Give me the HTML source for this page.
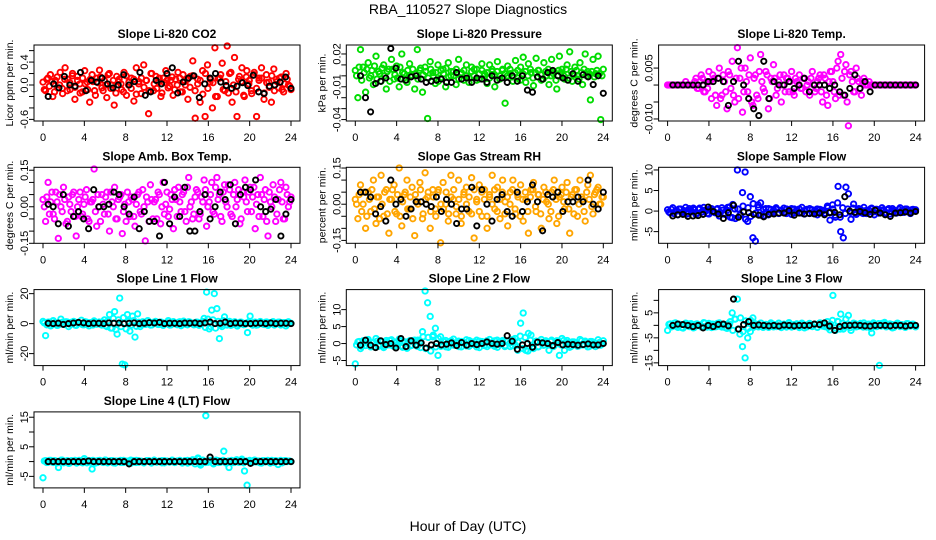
<!DOCTYPE html>
<html><head><meta charset="utf-8"><title>RBA_110527 Slope Diagnostics</title>
<style>
html,body{margin:0;padding:0;background:#fff;}
svg{display:block;font-family:"Liberation Sans",Arial,sans-serif;}
</style></head>
<body>
<svg id="chart" width="936" height="540" viewBox="0 0 936 540" xmlns="http://www.w3.org/2000/svg">
<rect x="0" y="0" width="936" height="540" fill="#fff"/>
<text x="468" y="14" text-anchor="middle" font-size="14">RBA_110527  Slope Diagnostics</text>
<text x="468" y="531" text-anchor="middle" font-size="14">Hour of Day (UTC)</text>
<g id="panels"></g>
</svg>
<script>
// ---------- data (x = hour of day, evenly spaced 0..24 across each series) ----------
const xTicks = [0, 4, 8, 12, 16, 20, 24];

const co2Color = [0.05,-0.1,0.12,0.18,-0.2,0.08,-0.05,0.22,-0.15,0.3,0.1,-0.08,0.2,-0.25,0.15,0.02,-0.12,0.25,0.05,-0.3,0.18,-0.1,0.12,0.26,-0.05,0.08,-0.22,0.2,0.0,-0.35,0.15,0.1,-0.08,0.22,-0.18,0.05,0.12,-0.28,0.3,0.02,-0.15,0.35,0.08,-0.5,0.2,-0.1,0.15,0.05,-0.2,0.12,0.25,-0.05,0.08,-0.18,0.1,0.22,-0.12,0.18,0.0,-0.25,0.15,0.42,-0.58,0.1,-0.3,0.25,-0.55,0.35,0.05,-0.4,0.65,-0.2,0.12,0.38,-0.1,0.68,0.2,-0.3,0.48,-0.55,0.15,0.3,-0.2,0.25,0.08,-0.15,0.22,-0.55,0.12,0.3,-0.25,0.18,0.05,-0.3,0.28,0.1,-0.05,0.14,-0.12,0.2,0.0,-0.08];
const co2Rep = [-0.08,0.1,-0.02,0.06,-0.12,0.14,0.0,-0.06,0.1,-0.1,0.04,0.16,-0.04,0.08,-0.14,0.12,0.02,-0.08,0.1,0.06,-0.18,0.04,0.14,-0.1,0.0,0.18,-0.06,0.08,-0.14,0.06,0.02,-0.12,0.16,0.0,-0.06,0.1,-0.16,0.06,0.12,-0.04,0.08,-0.1,0.2,0.02,-0.06,0.12,-0.14,0.04,0.08,-0.02,0.14,-0.08,0.0,0.12,-0.12,0.06,0.1,-0.04,0.16,-0.1,0.02,0.08,-0.16,0.2,-0.06,0.1,0.04,-0.2,0.12,0.18,-0.08,0.06,-0.14,0.22,0.0,-0.12,0.1,0.06,-0.18,0.14,0.02,-0.1,0.18,-0.06,0.08,0.12,-0.14,0.04,-0.04,0.16,-0.1,0.06,0.12,-0.08,0.02,0.1,-0.02];
const co2Black = [-0.2,0.02,-0.05,0.15,0.0,-0.02,0.22,-0.1,0.08,0.05,0.12,0.02,-0.05,0.0,0.18,0.0,0.06,0.22,-0.18,-0.12,0.08,0.02,0.2,0.3,-0.14,0.05,0.12,0.16,-0.22,0.02,0.12,0.2,0.05,-0.01,-0.06,-0.02,0.04,-0.01,0.17,-0.12,-0.15,-0.02,0.0,0.05,0.14,-0.06];

const presColor = [0.005,-0.02,0.024,0.008,-0.015,0.012,0.0,-0.008,0.018,0.004,-0.005,0.01,-0.012,0.006,0.015,-0.003,0.009,-0.01,0.02,0.002,-0.006,0.011,0.0,-0.012,0.024,0.005,-0.015,0.008,-0.039,0.013,0.003,-0.007,0.01,-0.002,0.006,-0.01,0.012,0.0,0.004,-0.008,0.015,0.002,-0.004,0.01,-0.006,0.008,0.0,0.006,-0.003,0.011,0.002,-0.007,0.01,0.004,-0.01,0.013,0.0,0.006,-0.025,0.009,0.002,-0.005,0.014,-0.002,0.008,0.017,-0.006,0.011,0.003,-0.009,0.016,0.005,-0.004,0.012,0.0,-0.008,0.015,0.004,-0.012,0.018,0.006,-0.003,0.01,0.022,-0.005,0.008,0.0,0.012,-0.008,0.02,0.004,-0.022,0.015,0.002,0.018,-0.04,0.006];
const presRep = [0.0,0.008,-0.004,0.003,0.006,-0.002,0.005,0.009,-0.003,0.002,0.007,0.0,0.004,-0.005,0.006,0.001,-0.002,0.008,0.003,-0.004,0.005,0.0,0.006,0.002,-0.003,0.007,0.001,0.004,-0.002,0.006,0.0,0.003,-0.005,0.005,0.002,0.007,-0.001,0.004,0.0,0.006,-0.003,0.003,0.005,0.0,-0.002,0.004,0.006,-0.004,0.002,0.005,0.0,0.003,-0.002,0.006,0.001,0.004,-0.003,0.005,0.002,0.0,0.006,-0.001,0.003,0.005,-0.004,0.002,0.004,0.0,0.006,-0.002,0.003,0.005,0.001,-0.003,0.004,0.006,0.0,0.002,-0.004,0.005,0.003,0.0,0.006,-0.002,0.004,0.001,0.005,-0.003,0.003,0.006,0.0,0.002,0.004,-0.001,0.005,0.002,0.0];
const presBlack = [0.0,-0.02,-0.033,-0.007,-0.005,-0.002,0.025,0.007,-0.003,-0.004,-0.001,0.0,-0.003,-0.006,-0.005,-0.004,-0.003,-0.006,-0.006,0.003,-0.003,-0.002,-0.006,-0.002,-0.003,-0.006,0.0,-0.004,-0.002,-0.006,0.0,-0.005,0.0,-0.013,-0.015,-0.001,-0.003,0.003,0.005,0.0,-0.002,-0.004,0.002,-0.005,0.001,-0.001,-0.008,0.0,-0.016];

const tempColor = [0,0,0,0,0,0,0,0.001,0,0,0,0.002,-0.001,0.003,-0.002,0.001,0.004,-0.004,0.002,-0.006,0.005,-0.003,0.001,-0.007,0.003,0.007,-0.005,0.011,0.002,-0.008,0.005,-0.002,0.008,-0.006,0.003,-0.004,0.009,-0.001,0.004,-0.007,0.002,0.006,-0.003,0.001,-0.005,0.003,0.002,-0.002,0.004,-0.003,0.001,0.003,-0.001,0.002,0.0,-0.003,0.004,-0.002,0.001,0.003,-0.005,0.002,-0.006,0.004,0.001,-0.004,0.007,0.009,-0.003,0.006,-0.012,0.004,-0.002,0.005,0.001,-0.003,0.002,0,0.001,0,0,0,0,0,0,0,0,0,0,0,0,0,0,0,0,0,0];
const tempRep = [0,0,0,0,0,0,0,0,0,0,0.001,-0.001,0.001,0.002,-0.002,-0.001,0.001,0.003,-0.003,0.002,-0.004,0.003,-0.002,0.004,-0.001,-0.003,0.002,-0.004,0.005,-0.002,0.001,0.003,-0.005,0.002,-0.003,0.004,0.001,-0.002,0.003,-0.004,0.001,0.002,-0.001,0.003,0.0,-0.002,0.002,0.001,-0.002,0.002,0.0,-0.001,0.002,-0.002,0.001,0.002,0.0,-0.001,0.002,-0.002,0.003,-0.003,0.001,0.004,-0.002,0.005,-0.003,0.002,0.004,-0.005,0.003,0.001,-0.002,0.002,-0.001,0.001,0,0,0,0,0,0,0,0,0,0,0,0,0,0,0,0,0,0,0,0];
const tempBlack = [0,0,0,0,0,0,0,0.001,0.001,0.002,0.001,-0.006,0.001,0.007,0.0,-0.004,-0.007,-0.009,0.007,-0.004,0.001,0.0,0.0,0.001,-0.001,0.0,0.002,-0.002,0.0,0.0,0.0,-0.001,0.0,-0.002,-0.003,-0.001,0.003,-0.001,0.001,-0.002,0,0,0,0,0,0,0,0,0];

const ambColor = [0.03,-0.06,0.1,0.02,-0.03,0.06,-0.13,0.0,0.08,-0.07,0.04,-0.02,0.06,-0.12,0.03,-0.04,0.01,0.07,-0.06,0.02,0.155,-0.08,0.0,0.05,-0.03,0.06,-0.1,0.02,0.08,-0.05,0.04,-0.11,0.01,0.06,-0.04,0.03,-0.08,0.05,-0.02,0.07,-0.14,0.02,0.09,-0.05,0.03,0.06,-0.07,0.1,0.01,-0.04,0.05,-0.09,0.03,0.08,-0.02,0.06,-0.06,0.12,0.02,-0.03,0.07,-0.05,0.04,0.11,-0.08,0.02,0.1,-0.03,0.12,0.05,-0.06,0.09,0.0,0.07,-0.04,0.1,0.03,-0.07,0.06,0.11,-0.02,0.08,0.04,-0.09,0.05,0.12,-0.04,0.07,-0.12,0.02,0.09,-0.06,0.03,0.1,-0.05,0.08,0.0,0.04];
const ambRep = [0.0,0.04,-0.03,0.06,-0.05,0.02,0.05,-0.02,0.03,-0.06,0.01,0.05,-0.04,0.0,0.06,-0.03,0.04,-0.05,0.02,0.03,-0.02,0.05,-0.06,0.01,0.04,-0.03,0.06,0.0,-0.05,0.03,0.05,-0.02,-0.06,0.02,0.04,-0.04,0.01,0.06,-0.03,0.0,0.04,-0.06,0.03,0.02,-0.05,0.05,0.0,-0.03,0.06,-0.01,0.03,0.07,-0.04,0.02,0.05,-0.02,0.08,0.0,-0.05,0.04,0.06,-0.03,0.02,0.07,0.0,0.05,-0.02,0.08,0.03,-0.04,0.06,0.02,0.09,-0.03,0.05,0.0,0.07,-0.05,0.04,0.02,0.06,-0.02,0.08,0.01,-0.04,0.05,0.03,-0.06,0.06,0.0,0.04,-0.03,0.07,0.02,-0.05,0.05,0.02];
const ambBlack = [0.01,0.0,-0.07,0.05,-0.08,-0.04,-0.02,-0.05,-0.09,0.07,0.0,0.0,0.01,0.06,0.05,0.0,-0.03,0.04,-0.09,-0.02,-0.06,-0.06,-0.12,0.1,-0.07,0.04,-0.04,0.08,-0.1,-0.1,-0.02,0.05,-0.05,0.0,0.06,0.03,0.09,-0.07,0.05,0.08,0.07,0.11,0.0,-0.02,-0.01,0.03,-0.12,-0.03,0.03];

const rhColor = [0.02,-0.06,0.08,0.0,-0.1,0.05,-0.03,0.1,-0.08,0.03,0.12,-0.05,0.06,-0.12,0.02,0.08,-0.04,0.15,-0.09,0.04,0.1,-0.02,0.07,-0.13,0.01,0.09,-0.06,0.13,0.03,-0.1,0.06,-0.02,0.05,-0.16,0.09,0.0,-0.07,0.12,0.02,-0.04,0.1,-0.08,0.04,0.07,-0.03,0.11,-0.14,0.02,0.08,-0.05,0.06,-0.1,0.03,0.12,-0.02,0.07,-0.06,0.1,0.01,-0.09,0.05,0.1,-0.04,0.03,0.08,-0.07,0.02,-0.12,0.06,0.09,-0.03,0.04,-0.1,0.07,0.01,-0.06,0.05,0.1,-0.08,0.03,0.07,-0.02,0.09,-0.12,0.04,0.06,-0.05,0.1,0.02,-0.07,0.08,0.12,-0.04,0.05,0.07,0.0,0.03];
const rhRep = [0.0,0.04,-0.03,0.05,-0.05,0.02,0.06,-0.02,0.03,-0.06,0.0,0.05,-0.04,0.02,0.06,-0.03,0.04,-0.05,0.01,0.05,-0.02,0.03,-0.06,0.04,0.0,0.06,-0.04,0.02,0.05,-0.03,0.03,-0.05,0.06,0.0,-0.02,0.05,-0.04,0.03,0.06,-0.01,0.02,-0.05,0.05,0.0,0.03,-0.04,0.06,0.01,-0.03,0.05,0.02,-0.05,0.04,0.0,0.06,-0.03,0.02,0.05,-0.04,0.03,0.0,0.06,-0.02,0.04,-0.05,0.02,0.05,-0.03,0.03,0.06,-0.01,0.04,-0.04,0.02,0.05,0.0,-0.03,0.06,0.02,-0.05,0.04,0.01,0.05,-0.02,0.03,-0.04,0.06,0.0,0.03,-0.03,0.05,0.02,-0.01,0.04,0.06,0.0,0.03];
const rhBlack = [0.05,0.05,0.03,-0.04,-0.01,-0.07,0.1,0.0,0.02,-0.05,-0.02,0.01,0.01,0.0,-0.01,0.03,-0.03,0.02,0.0,-0.08,-0.02,-0.02,0.07,-0.09,0.06,0.0,-0.07,0.02,0.04,-0.03,-0.05,0.05,-0.03,0.01,0.08,0.01,-0.11,0.04,0.03,0.05,-0.03,0.01,0.01,0.03,0.01,0.1,0.0,-0.02,0.05];

const sampColor = [0.3,-0.5,0.8,0.0,-0.9,0.5,-0.2,0.9,-0.6,0.2,0.7,-0.8,0.4,-0.3,0.9,0.1,-0.7,0.6,-0.2,0.4,-1.2,0.8,-0.5,0.2,1.0,-1.6,0.5,10.0,-1.0,4.5,9.5,-2.5,3.5,-6.5,-7.3,1.5,2.0,-1.2,0.6,-0.9,0.4,-0.3,0.8,-0.5,0.2,0.7,-0.6,0.3,-0.8,0.5,0.1,-0.4,0.9,-0.7,0.3,0.6,-0.5,0.2,-0.9,0.4,0.0,-0.6,0.8,-0.3,0.5,-1.5,6.0,-5.0,-6.5,5.8,4.2,-2.0,1.7,-0.8,0.6,-0.4,0.9,-0.6,0.2,0.7,-0.9,0.4,-0.2,0.8,-0.5,0.3,-0.7,0.6,0.1,-0.4,0.8,-0.3,0.5,0.2,-0.6,0.4,0.3];
const sampRep = [-0.2,0.4,-0.6,0.2,0.5,-0.4,0.1,-0.7,0.6,-0.1,0.3,-0.5,0.7,-0.2,0.2,-0.6,0.5,0.0,-0.4,0.6,-0.3,0.2,-0.8,0.9,-1.5,1.6,-1.8,0.5,-0.9,1.2,-2.0,0.8,-1.3,1.8,-0.5,0.9,-1.0,0.4,-0.3,0.6,-0.5,0.2,0.4,-0.6,0.1,-0.3,0.5,-0.2,0.6,-0.4,0.2,0.5,-0.5,0.1,0.4,-0.6,0.3,-0.1,0.5,-0.3,0.2,-0.5,1.2,-2.2,1.5,-1.0,2.0,-1.5,0.8,-0.6,0.5,-0.3,0.7,-0.5,0.2,0.4,-0.6,0.1,-0.3,0.6,-0.2,0.4,-0.5,0.2,0.3,-0.4,0.6,-0.1,0.2,-0.5,0.4,0.0,-0.3,0.5,-0.2,0.3,0.1];
const sampBlack = [-1.2,-0.9,-0.8,-1.3,-1.2,-1.1,-0.8,1.0,-0.1,-0.7,-1.8,-0.4,1.4,-1.5,-0.2,-0.4,-0.8,-1.0,-1.4,-0.8,-0.7,-0.5,-0.5,0.1,-1.0,-0.5,-0.7,-0.6,-0.7,-0.5,-0.9,-0.4,-0.3,-0.9,3.5,0.0,-0.3,-0.1,-0.4,-0.8,0.2,-0.5,-0.9,-1.3,-0.5,-0.4,-0.2,-0.5,-0.1];

const l1Color = [1.5,-8.0,1.0,-1.5,2.0,0.5,-1.0,3.0,-0.5,1.2,-2.0,0.8,1.5,-1.2,0.3,2.2,-0.8,1.0,-1.5,0.6,1.8,-0.4,1.1,-1.0,2.5,-2.0,6.0,-3.0,8.0,-7.0,17.0,-27.0,-27.5,6.0,-5.0,5.0,-9.0,6.5,-2.0,1.2,-0.5,2.0,-1.0,0.8,1.5,-0.6,1.1,-1.2,0.4,2.0,-0.9,1.3,-0.3,0.9,-1.4,1.6,-0.5,1.2,0.2,-0.8,1.0,-1.1,0.6,3.5,21.0,-3.5,9.0,20.0,10.0,-10.0,-2.0,4.5,-1.0,1.5,-0.7,1.2,-1.6,0.9,0.4,-0.5,-6.0,5.0,-1.0,1.0,-0.8,1.4,-0.3,0.9,-1.2,0.6,1.3,-0.4,1.0,-0.9,0.7,-1.5,1.2,0.2];
const l1Rep = [0.5,-0.8,1.0,-0.3,0.7,-1.2,0.4,0.9,-0.6,1.1,-0.4,0.2,-1.0,0.8,0.3,-0.7,1.2,-0.2,0.6,-0.9,1.0,0.1,-0.5,0.8,-1.4,2.0,-3.0,3.5,-4.0,2.5,-2.0,4.0,-3.5,1.5,-1.0,2.0,-1.8,0.9,-0.6,1.0,-0.3,0.7,-0.9,0.4,1.1,-0.5,0.8,-0.2,0.6,-1.0,0.9,0.2,-0.7,1.2,-0.4,0.5,-0.8,1.0,0.0,-0.6,0.9,-0.3,1.4,-2.5,3.0,-2.0,2.5,-3.0,1.5,-1.0,2.0,-0.8,0.6,-1.1,0.9,0.3,-0.5,1.0,-0.7,0.4,1.2,-0.4,0.8,-1.0,0.5,0.2,-0.6,1.1,-0.3,0.7,-0.9,0.4,1.0,-0.5,0.6,-0.2,0.3];
const l1Black = [0.2,0.0,0.3,-0.5,0.0,0.4,0.8,0.5,0.0,0.3,0.2,0.0,0.5,0.3,0.4,0.0,0.2,0.5,0.0,0.3,0.6,0.4,0.8,0.0,0.3,0.2,0.0,0.4,0.3,0.5,0.0,0.5,1.0,0.0,0.2,1.0,0.0,0.4,0.3,0.0,0.0,0.2,0.3,0.0,0.4,0.0,0.3,0.2,0.0];

const l2Color = [-6.0,0.5,-1.5,0.8,-0.6,1.2,-1.0,0.3,1.5,-0.8,0.6,-1.2,0.9,-0.4,1.1,-0.9,0.5,1.3,-0.7,0.2,-1.4,0.8,-0.5,1.0,-0.8,0.6,3.5,15.5,12.0,8.0,2.0,4.5,-3.5,2.0,-0.6,0.9,-1.1,0.4,1.3,-0.5,0.7,-1.0,0.2,1.1,-0.8,0.5,-0.3,1.0,-1.2,0.6,0.3,-0.9,1.2,-0.4,0.8,-1.1,0.5,0.9,-0.6,0.7,-0.9,1.2,-0.5,0.4,6.0,9.0,-2.0,3.0,2.5,-1.5,0.7,-0.9,1.2,-0.5,0.4,-2.0,1.0,-0.6,0.8,-3.5,1.5,-2.0,0.9,-1.1,0.5,0.3,-0.8,1.2,-0.4,0.7,-1.0,0.6,0.2,-0.9,1.1,-0.5,0.8];
const l2Rep = [-0.4,0.6,-0.9,0.3,0.8,-0.5,0.2,-1.0,0.7,-0.3,0.5,-0.8,0.4,0.9,-0.6,0.1,-0.4,0.7,-1.1,0.5,0.2,-0.7,0.9,-0.3,1.0,-1.2,2.0,-1.5,1.8,-2.2,2.5,-1.0,1.5,-0.8,0.6,-1.0,0.4,0.8,-0.5,0.2,-0.9,0.6,0.3,-0.7,0.9,-0.2,0.5,-1.0,0.7,0.1,-0.6,0.8,-0.4,0.3,-0.8,1.0,-0.3,0.5,-0.9,0.7,0.2,-0.6,1.5,-2.0,2.2,-1.5,1.8,-2.2,1.0,-0.8,0.6,-1.0,0.4,-0.5,0.8,-0.3,0.6,-0.9,0.2,0.7,-0.4,0.9,-0.6,0.3,-0.8,0.5,0.1,-0.7,0.8,-0.2,0.4,-0.9,0.6,0.0,-0.5,0.3,-0.2];
const l2Black = [-0.5,1.0,-0.5,-1.2,0.8,-0.3,0.0,-1.3,1.5,-0.9,0.8,-0.5,0.2,-1.3,-0.4,0.0,-0.4,-0.2,0.2,-0.6,0.3,-0.5,0.0,-0.3,0.0,0.5,0.0,-0.2,0.0,2.3,0.7,-1.7,-0.4,0.0,-1.1,0.4,0.2,0.0,-0.6,0.3,-0.4,-0.2,-0.3,-0.5,-0.3,-0.1,-0.4,-0.4,0.0];

const l3Color = [-2.0,0.6,-0.4,1.0,-0.8,0.3,-1.1,0.9,-0.2,0.7,-1.0,0.5,0.2,-0.6,1.1,-0.3,0.8,-0.9,0.4,-0.5,1.0,-0.7,0.3,-1.2,0.5,5.0,2.5,10.5,-3.5,-8.5,-13.0,-5.0,-2.5,3.0,0.6,-0.5,0.9,-0.8,0.4,-0.3,1.0,-0.6,0.2,0.8,-0.9,0.5,-0.2,1.1,-0.7,0.3,0.6,-0.4,0.9,-1.0,0.2,0.7,-0.5,0.4,-0.8,1.0,-0.3,0.6,-0.9,0.5,12.0,-2.0,1.5,4.5,-1.5,2.5,4.0,-2.0,0.9,-0.6,0.4,-0.3,1.0,-0.7,0.5,-3.0,0.4,-0.5,-16.0,0.8,1.2,-0.4,0.6,-1.0,0.3,0.9,-0.5,0.2,-0.8,0.7,-0.3,0.5,-0.6];
const l3Rep = [0.4,-0.6,0.8,-0.2,0.5,-0.9,0.3,0.7,-0.5,0.1,-0.8,0.6,0.2,-0.4,0.9,-0.7,0.3,0.5,-0.6,0.8,-0.3,0.2,-0.9,0.6,1.5,-2.0,2.5,-1.5,3.0,-2.5,1.8,-1.2,2.0,-0.8,0.5,-0.6,0.9,-0.3,0.2,-0.8,0.6,0.4,-0.5,0.9,-0.2,0.3,-0.7,0.8,0.1,-0.4,0.6,-0.9,0.5,0.2,-0.6,0.8,-0.3,0.4,-0.7,0.9,0.0,-0.5,1.5,-1.8,2.0,-1.0,1.6,-1.5,0.8,-0.6,0.5,-0.9,0.3,0.6,-0.4,0.8,-0.7,0.2,0.5,-1.2,1.0,-0.5,0.7,-0.3,0.9,-0.6,0.2,0.4,-0.8,0.6,-0.1,0.3,-0.5,0.7,-0.2,0.4,0.1];
const l3Black = [0.0,0.5,0.3,0.0,-0.5,0.0,-1.0,0.0,-0.5,0.4,0.5,-0.2,10.5,-1.5,0.3,1.5,0.0,0.2,0.0,-0.2,0.0,-0.3,0.1,0.0,-0.2,0.0,0.0,0.0,0.5,0.3,1.0,-0.3,-2.0,-0.5,0.0,0.0,0.1,0.0,-0.2,-0.3,0.0,0.0,0.0,-0.2,0.0,0.0,-0.3,0.0,0.0];

const l4Color = [-5.5,0.3,-0.2,0.4,-0.3,0.2,-2.0,0.5,-0.4,0.1,-0.6,0.3,0.2,-0.5,0.4,-0.3,1.0,-0.4,0.3,-2.5,0.2,-0.3,0.4,-0.1,0.5,-0.4,0.2,0.3,-0.5,0.1,0.4,-0.3,0.2,-0.4,0.5,0.0,-0.3,0.3,0.1,-0.4,0.2,0.3,-0.5,0.4,-0.2,0.1,0.3,-0.4,0.2,-0.1,0.5,-0.3,0.2,0.4,-0.2,0.1,-0.5,0.3,0.0,0.5,1.2,-1.2,0.4,15.5,-0.2,0.3,-0.8,0.5,-0.3,0.2,3.5,-0.5,-2.0,0.4,-0.3,0.6,-0.2,0.8,-3.2,-8.0,0.4,-0.3,0.5,0.2,-0.4,0.3,-0.1,0.4,-0.5,0.2,0.3,-1.0,0.4,-0.2,0.3,0.1,0.0];
const l4Rep = [0.2,-0.3,0.4,-0.1,0.3,-0.4,0.1,0.5,-0.2,0.3,-0.5,0.2,0.4,-0.3,0.1,-0.4,0.3,0.2,-0.2,0.4,-0.5,0.3,0.0,-0.3,0.5,-0.2,0.3,-0.4,0.2,0.1,-0.3,0.4,-0.1,0.2,-0.5,0.3,0.4,-0.2,0.1,-0.4,0.3,0.2,-0.3,0.5,-0.1,0.2,-0.4,0.3,0.0,-0.2,0.4,-0.3,0.2,0.1,-0.5,0.3,0.4,-0.2,0.6,-0.8,1.0,-0.6,0.5,-0.3,0.2,0.4,-0.5,0.1,0.3,-0.2,0.4,-0.4,0.2,0.1,-0.3,0.5,-0.2,0.3,-0.4,0.2,0.0,-0.3,0.4,-0.1,0.2,-0.5,0.3,0.1,-0.2,0.4,-0.3,0.2,0.1,-0.4,0.3,0.0,0.2];
const l4Black = [0,0,0,0,0,0,0,0,0.2,0,0,0,0,0,0,0,-0.8,0,0,0,0,0,0,0,0,0,0,0,0,0,0,0,1.5,0,0,0,0,0,0,0,-0.6,0,0,0,0,0,0,0,0];

const co2Ticks=[-0.6,-0.4,-0.2,0,0.2,0.4,0.6], co2Labels=["-0.6","","","0.0","","0.4",""];
const presTicks=[-0.04,-0.03,-0.02,-0.01,0,0.01,0.02], presLabels=["-0.04","","","-0.01","","","0.02"];
const tempTicks=[-0.01,-0.005,0,0.005], tempLabels=["-0.010","","","0.005"];
const ambTicks=[-0.15,-0.1,-0.05,0,0.05,0.1,0.15], ambLabels=["-0.15","","","0.00","","","0.15"];
const rhTicks=[-0.15,-0.1,-0.05,0,0.05,0.1,0.15], rhLabels=["-0.15","","","0.00","","","0.15"];
const sampTicks=[-5,0,5,10], sampLabels=["-5","0","5","10"];
const l1Ticks=[-20,0,20], l1Labels=["-20","0","20"];
const l2Ticks=[-5,0,5,10], l2Labels=["-5","0","5","10"];
const l3Ticks=[-15,-10,-5,0,5,10], l3Labels=["-15","","-5","","5",""];
const l4Ticks=[-5,0,5,10,15], l4Labels=["-5","","5","","15"];

const panels = [
 {key:"co2", title:"Slope Li-820 CO2", ylab:"Licor ppm per min.", col:0,row:0, lo:-0.628, hi:0.698, color:"#ff0000", c:co2Color, r:co2Rep, b:co2Black, t:co2Ticks, l:co2Labels},
 {key:"pressure", title:"Slope Li-820 Pressure", ylab:"kPa per min.", col:1,row:0, lo:-0.0413, hi:0.0282, color:"#00dd00", c:presColor, r:presRep, b:presBlack, t:presTicks, l:presLabels},
 {key:"temp", title:"Slope Li-820 Temp.", ylab:"degrees C per min.", col:2,row:0, lo:-0.0106, hi:0.0118, color:"#ff00ff", c:tempColor, r:tempRep, b:tempBlack, t:tempTicks, l:tempLabels},
 {key:"amb-box-temp", title:"Slope Amb. Box Temp.", ylab:"degrees C per min.", col:0,row:1, lo:-0.150, hi:0.162, color:"#ff00ff", c:ambColor, r:ambRep, b:ambBlack, t:ambTicks, l:ambLabels},
 {key:"gas-stream-rh", title:"Slope Gas Stream RH", ylab:"percent per min.", col:1,row:1, lo:-0.162, hi:0.153, color:"#ffa500", c:rhColor, r:rhRep, b:rhBlack, t:rhTicks, l:rhLabels},
 {key:"sample-flow", title:"Slope Sample Flow", ylab:"ml/min per min.", col:2,row:1, lo:-7.84, hi:10.65, color:"#0000ff", c:sampColor, r:sampRep, b:sampBlack, t:sampTicks, l:sampLabels},
 {key:"line1-flow", title:"Slope Line 1 Flow", ylab:"ml/min per min.", col:0,row:2, lo:-28, hi:22.7, color:"#00ffff", c:l1Color, r:l1Rep, b:l1Black, t:l1Ticks, l:l1Labels},
 {key:"line2-flow", title:"Slope Line 2 Flow", ylab:"ml/min per min.", col:1,row:2, lo:-6.5, hi:15.9, color:"#00ffff", c:l2Color, r:l2Rep, b:l2Black, t:l2Ticks, l:l2Labels},
 {key:"line3-flow", title:"Slope Line 3 Flow", ylab:"ml/min per min.", col:2,row:2, lo:-16.1, hi:14.3, color:"#00ffff", c:l3Color, r:l3Rep, b:l3Black, t:l3Ticks, l:l3Labels},
 {key:"line4-flow", title:"Slope Line 4 (LT) Flow", ylab:"ml/min per min.", col:0,row:3, lo:-8.9, hi:16.8, color:"#00ffff", c:l4Color, r:l4Rep, b:l4Black, t:l4Ticks, l:l4Labels}
];

const NS="http://www.w3.org/2000/svg";
const root=document.getElementById('panels');
function mk(tag, attrs, parent){const e=document.createElementNS(NS,tag);for(const k in attrs)e.setAttribute(k,attrs[k]);parent.appendChild(e);return e;}

panels.forEach(p=>{
  const ox=p.col*312.3, oy=p.row*122.3;
  const L=ox+34, R=ox+300, T=oy+45, B=oy+121;
  const xScale=h=>ox+43+h*(248/24);
  const yScale=v=>B-(v-p.lo)/(p.hi-p.lo)*(B-T);
  const g=mk('g',{},root);
  
  
  const title=mk('text',{x:(L+R)/2,y:oy+38,'text-anchor':'middle','font-size':'12','font-weight':'bold'},g);
  title.textContent=p.title;
  
  
  const yl=mk('text',{x:0,y:0,'text-anchor':'middle','font-size':'10.5',transform:`translate(${ox+10},${(T+B)/2}) rotate(-90)`,'dominant-baseline':'central'},g);
  yl.textContent=p.ylab;
  
  
  const pts=mk('g',{fill:'none','stroke-width':'1.9'},g);
  
  
  p.r.forEach((v,i)=>{
    const h=(i+0.5)*24/p.r.length;
    const c=mk('circle',{cx:xScale(h).toFixed(1),cy:yScale(v).toFixed(1),r:'2.7',stroke:p.color},pts);
    
    
  });
  p.c.forEach((v,i)=>{
    const h=i*24/(p.c.length-1);
    const c=mk('circle',{cx:xScale(h).toFixed(1),cy:yScale(v).toFixed(1),r:'2.7',stroke:p.color},pts);
    
    
  });
  p.b.forEach((v,i)=>{
    const h=0.5+i*23.5/(p.b.length-1);
    const c=mk('circle',{cx:xScale(h).toFixed(1),cy:yScale(v).toFixed(1),r:'2.6',stroke:'#000'},pts);
    
    
  });
  const fr=mk('rect',{x:L,y:T,width:R-L,height:B-T,fill:'none',stroke:'#000','stroke-width':'1'},g);
  
  
  xTicks.forEach(t=>{
    const x=xScale(t);
    mk('line',{x1:x,x2:x,y1:B,y2:B+5,stroke:'#000'},g);
    const tx=mk('text',{x:x,y:B+20,'text-anchor':'middle','font-size':'11'},g);
    tx.textContent=String(t);
    
    
  });
  p.t.forEach((t,i)=>{
    const y=yScale(t);
    mk('line',{x1:L-5,x2:L,y1:y,y2:y,stroke:'#000'},g);
    if(p.l[i]){
      const ty=mk('text',{x:0,y:0,'text-anchor':'middle','font-size':'11','dominant-baseline':'central',transform:`translate(${ox+25},${y}) rotate(-90)`},g);
      ty.textContent=p.l[i];
      
      
    }
  });
});
</script>
</body></html>
